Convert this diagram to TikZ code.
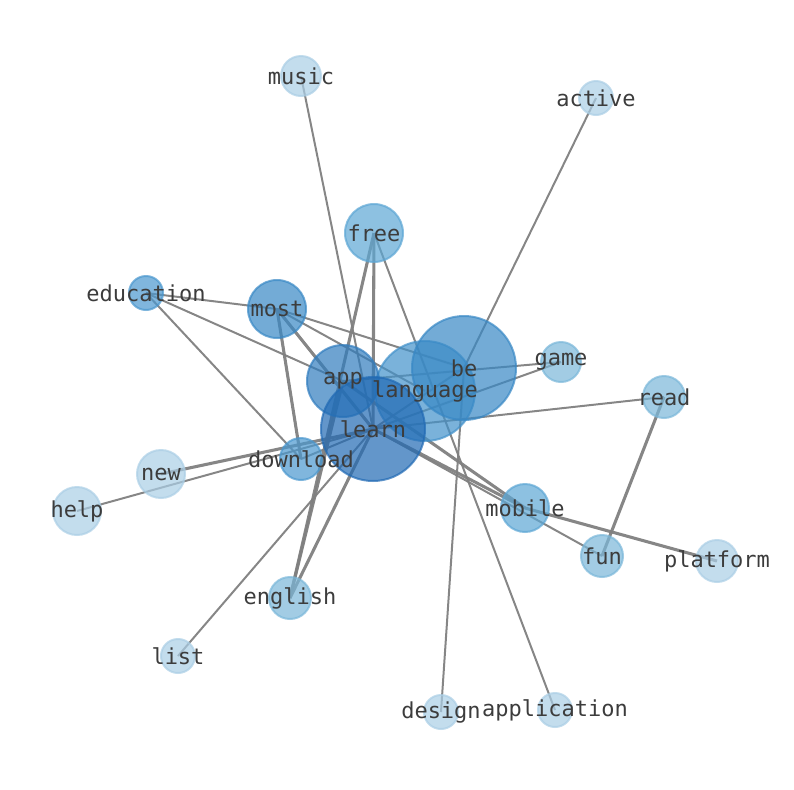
\documentclass[tikz,border=0pt]{standalone}
\usepackage{fontspec}
\setmonofont{DejaVu Sans Mono}
\pgfdeclarelayer{bg}
\pgfsetlayers{bg,main}
\definecolor{cA}{RGB}{33,106,180}
\definecolor{cB}{RGB}{48,124,190}
\definecolor{cC}{RGB}{56,136,197}
\definecolor{cD}{RGB}{66,145,202}
\definecolor{cE}{RGB}{74,151,206}
\definecolor{cF}{RGB}{92,166,212}
\definecolor{cG}{RGB}{122,183,217}
\definecolor{cH}{RGB}{170,206,229}
\definecolor{edgec}{RGB}{128,128,128}
\definecolor{textc}{RGB}{60,60,60}
\tikzset{
  nd/.style={circle, inner sep=0pt, fill=#1, draw=#1, fill opacity=0.7, draw opacity=0.7, line width=1.5pt},
  lab/.style={font=\ttfamily\fontsize{16.5}{18}\selectfont, text=textc, inner sep=0pt},
  thin/.style={draw=edgec, line width=1.5pt, opacity=0.95},
  thick/.style={draw=edgec, line width=2.3pt, opacity=0.95}
}
\begin{document}
\begin{tikzpicture}[x=0.75pt, y=-0.75pt]
\useasboundingbox (0,0) rectangle (794,790);
% circles (r in px -> diameter*0.75 pt)
\node[nd=cH, minimum size=30pt] (music) at (301,76) {};
\node[nd=cH, minimum size=25.5pt] (active) at (596,98) {};
\node[nd=cF, minimum size=43.5pt] (free) at (374,233) {};
\node[nd=cE, minimum size=25.5pt] (education) at (146,293) {};
\node[nd=cC, minimum size=43.5pt] (most) at (277,309) {};
\node[nd=cD, minimum size=75pt] (language) at (425,391) {};
\node[nd=cC, minimum size=78pt] (be) at (464,368) {};
\node[nd=cG, minimum size=30pt] (game) at (561,362) {};
\node[nd=cB, minimum size=54pt] (app) at (343,381) {};
\node[nd=cG, minimum size=31.5pt] (read) at (664,397) {};
\node[nd=cA, minimum size=78pt] (learn) at (373,429) {};
\node[nd=cE, minimum size=31.5pt] (download) at (301,459) {};
\node[nd=cH, minimum size=36pt] (new) at (161,474) {};
\node[nd=cH, minimum size=36pt] (help) at (77,511) {};
\node[nd=cF, minimum size=36pt] (mobile) at (525,508) {};
\node[nd=cG, minimum size=31.5pt] (fun) at (602,556) {};
\node[nd=cH, minimum size=31.5pt] (platform) at (717,561) {};
\node[nd=cG, minimum size=31.5pt] (english) at (290,598) {};
\node[nd=cH, minimum size=25.5pt] (list) at (178,656) {};
\node[nd=cH, minimum size=25.5pt] (design) at (441,712) {};
\node[nd=cH, minimum size=25.5pt] (application) at (555,710) {};
% edges
\begin{pgfonlayer}{bg}
\draw[thin] (music.center) -- (learn.center);
\draw[thin] (active.center) -- (be.center);
\draw[thin] (education.center) -- (most.center);
\draw[thin] (education.center) -- (app.center);
\draw[thin] (education.center) -- (download.center);
\draw[thin] (most.center) -- (be.center);
\draw[thin] (most.center) -- (language.center);
\draw[thin] (help.center) -- (learn.center);
\draw[thin] (list.center) -- (learn.center);
\draw[thin] (read.center) -- (learn.center);
\draw[thin] (game.center) -- (learn.center);
\draw[thin] (game.center) -- (app.center);
\draw[thin] (be.center) -- (learn.center);
\draw[thin] (design.center) -- (be.center);
\draw[thin] (learn.center) -- (fun.center);
\draw[thin] (download.center) -- (learn.center);
\draw[thin] (free.center) -- (application.center);
\draw[thick] (free.center) -- (learn.center);
\draw[thick] (free.center) -- (english.center);
\draw[thick] (most.center) -- (learn.center);
\draw[thick] (most.center) -- (download.center);
\draw[thick] (english.center) -- (learn.center);
\draw[thick] (english.center) -- (app.center);
\draw[thick] (app.center) -- (mobile.center);
\draw[thick] (learn.center) -- (mobile.center);
\draw[thick] (mobile.center) -- (platform.center);
\draw[thick] (fun.center) -- (read.center);
\draw[thick] (new.center) -- (learn.center);
\end{pgfonlayer}
% labels
\node[lab] (music-l) at (music) {music};
\node[lab] (active-l) at (active) {active};
\node[lab] (free-l) at (free) {free};
\node[lab] (education-l) at (education) {education};
\node[lab] (most-l) at (most) {most};
\node[lab] (language-l) at (language) {language};
\node[lab] (be-l) at (be) {be};
\node[lab] (game-l) at (game) {game};
\node[lab] (app-l) at (app) {app};
\node[lab] (read-l) at (read) {read};
\node[lab] (learn-l) at (learn) {learn};
\node[lab] (download-l) at (download) {download};
\node[lab] (new-l) at (new) {new};
\node[lab] (help-l) at (help) {help};
\node[lab] (mobile-l) at (mobile) {mobile};
\node[lab] (fun-l) at (fun) {fun};
\node[lab] (platform-l) at (platform) {platform};
\node[lab] (english-l) at (english) {english};
\node[lab] (list-l) at (list) {list};
\node[lab] (design-l) at (design) {design};
\node[lab] (application-l) at (application) {application};
\end{tikzpicture}
\end{document}
